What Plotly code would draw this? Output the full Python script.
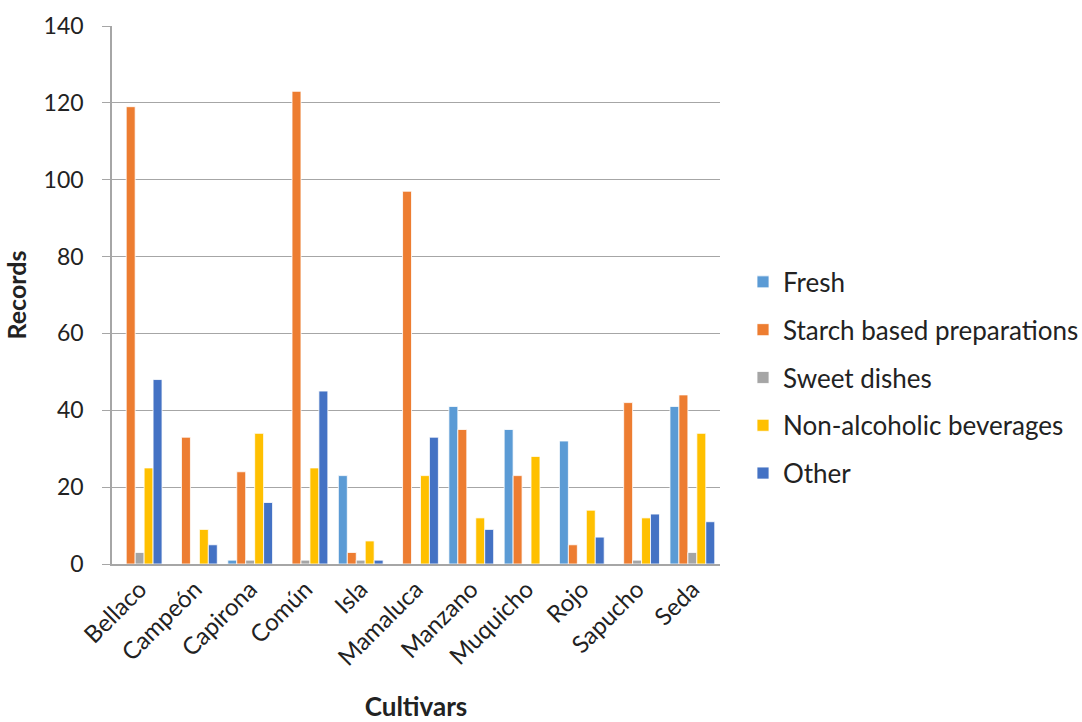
import plotly.graph_objects as go

cultivars = ["Bellaco", "Campeón", "Capirona", "Común", "Isla", "Mamaluca",
             "Manzano", "Muquicho", "Rojo", "Sapucho", "Seda"]
fresh = [0, 0, 1, 0, 23, 0, 41, 35, 32, 0, 41]
starch = [119, 33, 24, 123, 3, 97, 35, 23, 5, 42, 44]
sweet = [3, 0, 1, 1, 1, 0, 0, 0, 0, 1, 3]
nonalc = [25, 9, 34, 25, 6, 23, 12, 28, 14, 12, 34]
other = [48, 5, 16, 45, 1, 33, 9, 0, 7, 13, 11]

series = [
    ("Fresh", fresh, "#5B9BD5"),
    ("Starch based preparations", starch, "#ED7D31"),
    ("Sweet dishes", sweet, "#A5A5A5"),
    ("Non-alcoholic beverages", nonalc, "#FFC000"),
    ("Other", other, "#4472C4"),
]

font_family = "Lato, 'Open Sans', sans-serif"

fig = go.Figure()
for i, (name, vals, color) in enumerate(series):
    fig.add_trace(go.Bar(
        x=cultivars, y=vals, name=name, legendgroup=str(i),
        marker=dict(color=color, line=dict(color="white", width=0.8)),
    ))

fig.update_layout(
    width=1082, height=722,
    margin=dict(l=112, r=362, t=26, b=158, autoexpand=False),
    paper_bgcolor="white", plot_bgcolor="white",
    barmode="group", bargap=0.19, bargroupgap=0,
    font=dict(family=font_family, color="#222222"),
    legend=dict(
        xref="container", yref="container",
        x=0.6867, y=0.4765, xanchor="left", yanchor="middle",
        font=dict(size=26, family=font_family, color="#222222"),
        traceorder="grouped", tracegroupgap=11,
        itemwidth=30,
    ),
    xaxis=dict(
        title=dict(text="<b>Cultivars</b>", font=dict(size=26), standoff=32),
        tickangle=-45, tickfont=dict(size=24), automargin=False,
        showline=True, linecolor="#A6A6A6", linewidth=1.5,
        ticks="", showgrid=False,
    ),
    yaxis=dict(
        title=dict(text="<b>Records</b>", font=dict(size=25), standoff=10),
        range=[0, 140], dtick=20, tickfont=dict(size=23), automargin=False,
        showgrid=True, gridcolor="#A6A6A6", gridwidth=1.3,
        showline=True, linecolor="#A6A6A6", linewidth=1.5,
        ticks="outside", ticklen=8, tickcolor="#A6A6A6", tickwidth=1.3,
        ticklabelstandoff=14, zeroline=False,
    ),
)

fig.write_html("out.html")
